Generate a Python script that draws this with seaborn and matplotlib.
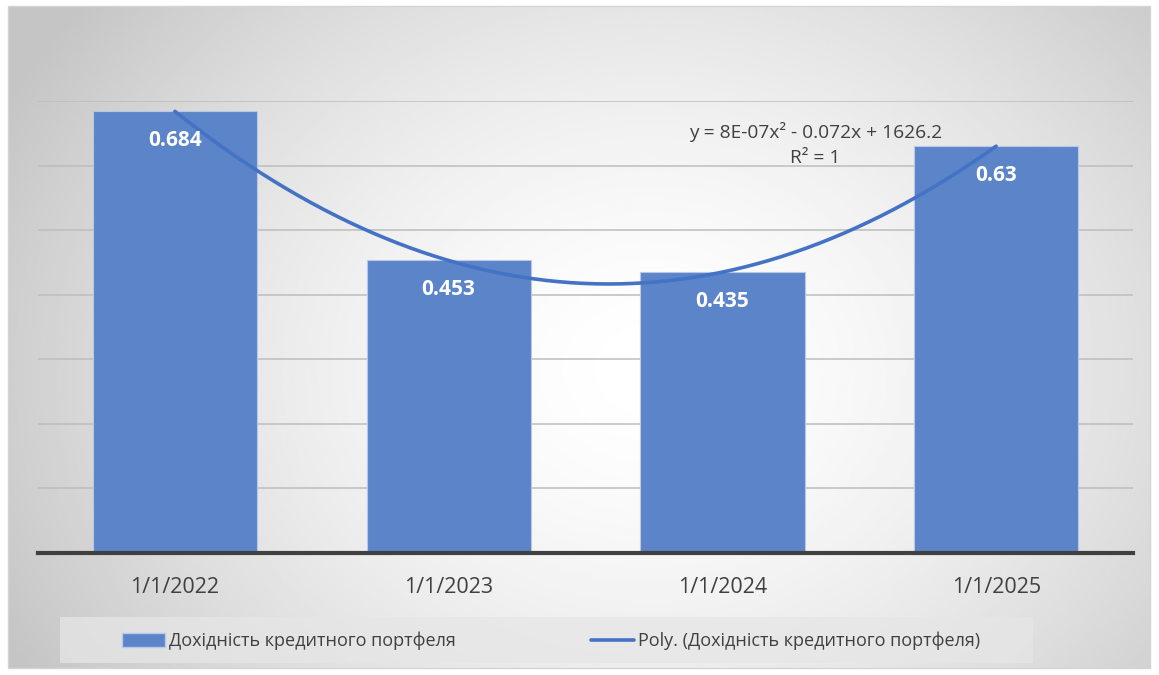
import numpy as np
import pandas as pd
import matplotlib
matplotlib.use("Agg")
import matplotlib.pyplot as plt
from matplotlib.patches import Patch, Rectangle
from matplotlib.lines import Line2D
import seaborn as sns

# ── Data ──────────────────────────────────────────────────────────────────────
dates = ["1/1/2022", "1/1/2023", "1/1/2024", "1/1/2025"]
yield_values = [0.684, 0.453, 0.435, 0.63]
series_name = "Дохідність кредитного портфеля"
trend_name = "Poly. (Дохідність кредитного портфеля)"
equation_text = "y = 8E-07x² - 0.072x + 1626.2\nR² = 1"

BAR_COLOR = "#5B84C9"
LINE_COLOR = "#4472C4"
W, H = 1159, 675

sns.set_theme(style="white")
plt.rcParams["font.family"] = ["Open Sans", "DejaVu Sans"]

fig = plt.figure(figsize=(W / 100, H / 100), dpi=100)

# ── Background: radial gray-to-white gradient inside the chart frame ─────────
bg = fig.add_axes([0, 0, 1, 1], zorder=0)
bg.set_xlim(0, W)
bg.set_ylim(H, 0)
bg.axis("off")
gx, gy = np.meshgrid(np.linspace(8, 1150, 400), np.linspace(6, 668, 240))
r = np.sqrt(((gx - 650) / 600) ** 2 + ((gy - 370) / 500) ** 2)
shade = 1.0 - 0.17 * np.clip(r, 0, 1.2) ** 1.6
bg.imshow(shade, cmap="gray", vmin=0, vmax=1, extent=(8, 1150, 668, 6),
          aspect="auto", interpolation="bilinear")
bg.add_patch(Rectangle((8, 6), 1142, 662, fill=False, edgecolor="#d4d4d4", lw=1))

# ── Main plot ─────────────────────────────────────────────────────────────────
ax = fig.add_axes([38 / W, 1 - 553 / H, (1133 - 38) / W, (553 - 101) / H], zorder=1)
ax.set_facecolor("none")
df = pd.DataFrame({"date": dates, "value": yield_values})
sns.barplot(data=df, x="date", y="value", color=BAR_COLOR, width=0.6,
            saturation=1, edgecolor="#b8c8e6", linewidth=0.8, ax=ax, zorder=2)

ax.set_ylim(0, 0.7)
ax.set_xlim(-0.5, 3.5)
ax.set_yticks(np.arange(0, 0.71, 0.1))
ax.yaxis.grid(True, color="#bdbdbd", lw=1.1)
ax.set_axisbelow(True)
ax.tick_params(axis="y", left=False, labelleft=False)
ax.tick_params(axis="x", bottom=False, labelsize=15.5, labelcolor="#404040", pad=11)
ax.set_xlabel("")
ax.set_ylabel("")
for s in ["top", "right", "left"]:
    ax.spines[s].set_visible(False)
ax.spines["bottom"].set_color("#404040")
ax.spines["bottom"].set_linewidth(3)

# data labels inside the bar tops
for i, v in enumerate(yield_values):
    ax.annotate(f"{v:g}", (i, v), xytext=(0, -21), textcoords="offset points",
                ha="center", va="center", color="white", fontsize=15,
                fontweight="bold", zorder=4)

# polynomial (order 2) trendline
xi = np.arange(len(yield_values))
coef = np.polyfit(xi, yield_values, 2)
xs = np.linspace(0, len(yield_values) - 1, 200)
ax.plot(xs, np.polyval(coef, xs), color=LINE_COLOR, lw=2.6, zorder=3,
        solid_capstyle="round")
ax.text(2.34, 0.632, equation_text, ha="center", va="center", fontsize=13.8,
        color="#404040", linespacing=1.5, zorder=4)

# ── Legend ────────────────────────────────────────────────────────────────────
bg.add_patch(Rectangle((60, 617), 973, 46, facecolor="#e6e6e6", alpha=0.75,
                       edgecolor="none"))
handles = [Patch(facecolor=BAR_COLOR, edgecolor="#b8c8e6", label=series_name),
           Line2D([0], [0], color=LINE_COLOR, lw=2.6, label=trend_name)]
fig.legend(handles=handles, loc="center", bbox_to_anchor=(551 / W, 1 - 641 / H),
           ncol=2, frameon=False, fontsize=13, handlelength=2.4,
           handleheight=0.8, handletextpad=0.2, columnspacing=7.5,
           labelcolor="#404040")

fig.savefig("out.png", dpi=100)
